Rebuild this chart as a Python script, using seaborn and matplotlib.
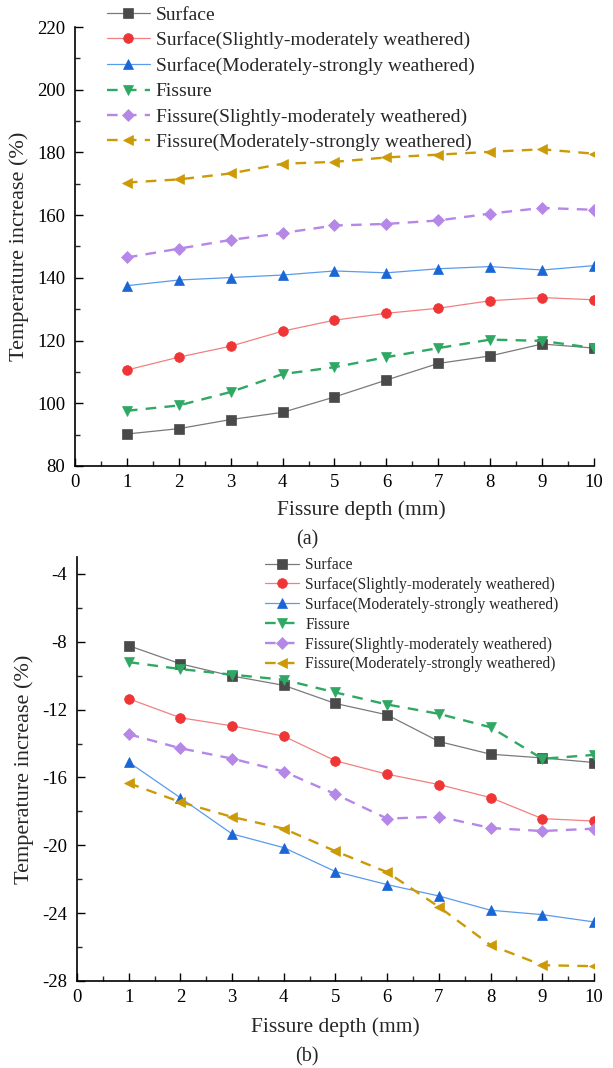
import matplotlib
matplotlib.use("Agg")
import matplotlib.pyplot as plt
from matplotlib.ticker import MultipleLocator
import numpy as np
import pandas as pd
import seaborn as sns

# Fissure depth (mm)
depth = [1, 2, 3, 4, 5, 6, 7, 8, 9, 10]

series_names = [
    "Surface",
    "Surface(Slightly-moderately weathered)",
    "Surface(Moderately-strongly weathered)",
    "Fissure",
    "Fissure(Slightly-moderately weathered)",
    "Fissure(Moderately-strongly weathered)",
]

# (a) temperature increase (%)
a_surface = [90.2, 91.9, 94.8, 97.1, 102.0, 107.4, 112.7, 115.1, 118.9, 117.6]
a_surface_sm = [110.6, 114.7, 118.2, 123.0, 126.5, 128.7, 130.3, 132.7, 133.7, 133.0]
a_surface_ms = [137.5, 139.3, 140.1, 140.9, 142.2, 141.6, 142.9, 143.6, 142.5, 143.9]
a_fissure = [97.6, 99.3, 103.6, 109.3, 111.5, 114.7, 117.6, 120.3, 119.9, 117.6]
a_fissure_sm = [146.5, 149.3, 152.1, 154.3, 156.7, 157.2, 158.3, 160.5, 162.3, 161.7]
a_fissure_ms = [170.4, 171.4, 173.3, 176.4, 177.0, 178.4, 179.3, 180.2, 181.0, 179.6]

# (b) temperature increase (%)
b_surface = [-8.23, -9.30, -10.02, -10.57, -11.64, -12.31, -13.88, -14.63, -14.85, -15.12]
b_surface_sm = [-11.36, -12.48, -12.96, -13.57, -15.02, -15.81, -16.42, -17.19, -18.43, -18.57]
b_surface_ms = [-15.10, -17.20, -19.33, -20.14, -21.55, -22.32, -22.99, -23.83, -24.09, -24.52]
b_fissure = [-9.20, -9.61, -9.94, -10.24, -10.99, -11.70, -12.25, -13.04, -14.90, -14.67]
b_fissure_sm = [-13.45, -14.28, -14.89, -15.65, -16.99, -18.43, -18.31, -18.98, -19.16, -19.02]
b_fissure_ms = [-16.34, -17.45, -18.33, -19.02, -20.35, -21.59, -23.63, -25.89, -27.07, -27.13]

# styling per series: (line colour, marker colour, marker, dashed)
styles = [
    ("#7a7a7a", "#4a4a4a", "s", False),
    ("#f28080", "#ef3535", "o", False),
    ("#5a9bea", "#1a66d6", "^", False),
    ("#2ea862", "#2ea862", "v", True),
    ("#b587e6", "#b587e6", "D", True),
    ("#cc9a06", "#cc9a06", "<", True),
]

sns.set_theme(style="ticks")
plt.rcParams["font.family"] = ["Liberation Serif", "DejaVu Serif"]
plt.rcParams["axes.unicode_minus"] = False
plt.rcParams["xtick.direction"] = "in"
plt.rcParams["ytick.direction"] = "in"

fig = plt.figure(figsize=(6.13, 10.68), dpi=100)
ax_a = fig.add_axes([0.1223, 0.5637, 0.8467, 0.4110])
ax_b = fig.add_axes([0.1256, 0.0815, 0.8434, 0.3970])


def draw(ax, values_list, marker_size, solid_lw, dash_lw):
    for name, vals, (lc, mc, mk, dashed) in zip(series_names, values_list, styles):
        df = pd.DataFrame({"depth": depth, "value": vals})
        ms = marker_size * (0.85 if mk == "D" else 1.0)
        sns.lineplot(
            data=df, x="depth", y="value", ax=ax, label=name,
            color=lc, marker=mk, markersize=ms,
            markerfacecolor=mc, markeredgecolor=mc, markeredgewidth=0.5,
            linestyle=(0, (4.5, 3.5)) if dashed else "-",
            linewidth=dash_lw if dashed else solid_lw,
        )


draw(ax_a, [a_surface, a_surface_sm, a_surface_ms, a_fissure, a_fissure_sm, a_fissure_ms],
     7.0, 0.9, 1.7)
draw(ax_b, [b_surface, b_surface_sm, b_surface_ms, b_fissure, b_fissure_sm, b_fissure_ms],
     7.0, 0.9, 1.7)

for ax in (ax_a, ax_b):
    ax.set_xlim(0, 10)
    ax.xaxis.set_major_locator(MultipleLocator(1))
    ax.xaxis.set_minor_locator(MultipleLocator(0.5))
    ax.tick_params(axis="both", which="major", length=6, width=1.0,
                   labelsize=13.5, colors="black")
    ax.tick_params(axis="x", which="major", pad=6)
    ax.tick_params(axis="y", which="major", pad=7)
    ax.tick_params(axis="both", which="minor", length=3.5, width=1.0)
    ax.tick_params(top=False, right=False, which="both")
    for side in ("top", "right"):
        ax.spines[side].set_visible(False)
    for side in ("left", "bottom"):
        ax.spines[side].set_linewidth(1.2)
        ax.spines[side].set_color("black")
    ax.set_xlabel("Fissure depth (mm)", fontsize=15.5)
    ax.set_ylabel("Temperature increase (%)", fontsize=16, labelpad=6)
    ax.get_legend().remove()

ax_a.set_ylim(80, 220)
ax_a.yaxis.set_major_locator(MultipleLocator(20))
ax_a.yaxis.set_minor_locator(MultipleLocator(10))

ax_b.set_ylim(-28, -3)
ax_b.set_yticks([-4, -8, -12, -16, -20, -24, -28])
ax_b.yaxis.set_minor_locator(MultipleLocator(2))

# x-label placement
ax_a.xaxis.set_label_coords(0.551, -0.100)
ax_b.xaxis.set_label_coords(0.5, -0.1085)
for ax in (ax_a, ax_b):
    ax.xaxis.label.set_va("center")

# legends
h_a, l_a = ax_a.get_legend_handles_labels()
fig.legend(h_a, l_a, loc="upper left", bbox_to_anchor=(107 / 613, 1 - 6 / 1068),
           frameon=False, fontsize=14, handlelength=2.2, handletextpad=0.3,
           labelspacing=0.4, borderpad=0, borderaxespad=0)
h_b, l_b = ax_b.get_legend_handles_labels()
fig.legend(h_b, l_b, loc="upper left", bbox_to_anchor=(265 / 613, 1 - 557 / 1068),
           frameon=False, fontsize=11.2, handlelength=2.2, handletextpad=0.4,
           labelspacing=0.25, borderpad=0, borderaxespad=0)

fig.text(307 / 613, 1 - 540 / 1068, "(a)", ha="center", va="center", fontsize=14.5)
fig.text(307 / 613, 1 - 1057 / 1068, "(b)", ha="center", va="center", fontsize=14.5)

fig.savefig("out.png", dpi=100)
